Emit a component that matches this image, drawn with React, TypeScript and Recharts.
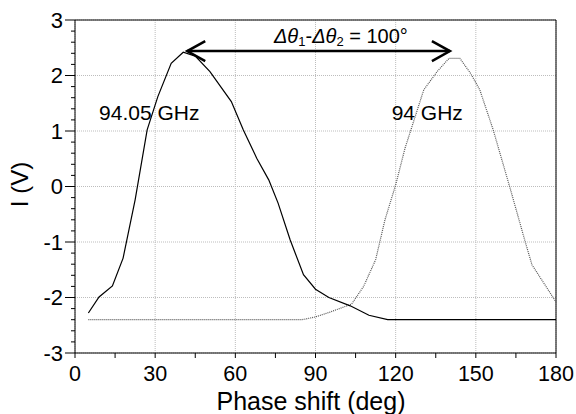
import React from 'react';
import { LineChart, Line, XAxis, YAxis, CartesianGrid, ReferenceLine, ReferenceDot } from 'recharts';

// 94.05 GHz (solid)
const phase1 = [5, 9, 14, 18, 22.5, 27, 31, 36, 40.5, 45, 50.5, 58.5, 63, 68, 72.5, 76, 80.5, 85.5, 90, 95, 103, 110, 117, 180];
const volt1 = [-2.28, -1.99, -1.79, -1.29, -0.24, 1.02, 1.62, 2.22, 2.42, 2.35, 2.07, 1.53, 1.02, 0.51, 0.12, -0.3, -0.96, -1.59, -1.85, -2.0, -2.15, -2.32, -2.4, -2.4];

// 94 GHz (dotted)
const phase2 = [5, 85, 90, 95, 103.5, 108, 112.5, 116, 120, 123.5, 126.5, 130.5, 135.5, 140, 144, 148, 151.5, 156.5, 163, 168.5, 171, 180];
const volt2 = [-2.4, -2.4, -2.35, -2.27, -2.12, -1.8, -1.32, -0.6, 0.03, 0.69, 1.14, 1.74, 2.07, 2.31, 2.31, 2.04, 1.74, 1.02, -0.06, -1.0, -1.41, -2.08];

const xMajor = [0, 30, 60, 90, 120, 150, 180];
const xTicks = [0, 15, 30, 45, 60, 75, 90, 105, 120, 135, 150, 165, 180];
const yMajor = [-3, -2, -1, 0, 1, 2, 3];
const yTicks = Array.from({ length: 31 }, (_, i) => Math.round((-3 + i * 0.2) * 10) / 10);

const arrowY = 2.44;
const arrowFrom = 42;
const arrowTo = 140.3;

const data1 = phase1.map((p, i) => ({ p, v: volt1[i] }));
const data2 = phase2.map((p, i) => ({ p, v: volt2[i] }));

const FONT = '"Liberation Sans", Arial, sans-serif';

const YTick = (props: any) => {
  const { x, y, payload } = props;
  const v = payload.value;
  const major = Math.abs(v - Math.round(v)) < 1e-6;
  return (
    <g>
      <line x1={x} x2={x - (major ? 10 : 4)} y1={y} y2={y} stroke="#000" strokeWidth={1} />
      {major && (
        <text x={x - 12} y={y} dy="0.36em" textAnchor="end" fontFamily={FONT} fontSize={22} fill="#000">
          {v}
        </text>
      )}
    </g>
  );
};

const XTick = (props: any) => {
  const { x, y, payload } = props;
  const v = payload.value;
  const major = v % 30 === 0;
  return (
    <g>
      <line x1={x} x2={x} y1={y} y2={y + 5} stroke="#000" strokeWidth={1} />
      {major && (
        <text x={x} y={y + 28} textAnchor="middle" fontFamily={FONT} fontSize={21.5} fill="#000">
          {v}
        </text>
      )}
    </g>
  );
};

const ArrowShape = (props: any) => {
  const { x1, y1, x2, y2 } = props;
  return (
    <g stroke="#000" fill="none" strokeWidth={2.5}>
      <line x1={x1} y1={y1} x2={x2} y2={y2} />
      <polyline points={`${x1 + 18},${y1 - 10} ${x1},${y1} ${x1 + 18},${y1 + 10}`} />
      <polyline points={`${x2 - 18},${y2 - 10} ${x2},${y2} ${x2 - 18},${y2 + 10}`} />
    </g>
  );
};

const AnnotText = (text: React.ReactNode, anchor: string, size = 21) => (props: any) => (
  <text x={props.cx} y={props.cy} textAnchor={anchor} fontFamily={FONT} fontSize={size} fill="#000">
    {text}
  </text>
);

const deltaText = (
  <>
    <tspan fontStyle="italic">Δθ</tspan>
    <tspan fontSize={13} dy={3}>1</tspan>
    <tspan dy={-3}>-</tspan>
    <tspan fontStyle="italic">Δθ</tspan>
    <tspan fontSize={13} dy={3}>2</tspan>
    <tspan dy={-3}> = 100°</tspan>
  </>
);

export default function App() {
  return (
    <div style={{ position: 'absolute', left: 0, top: 0, background: '#fff' }}>
      <LineChart width={576} height={414} margin={{ top: 20, right: 20, bottom: 0, left: 0 }}>
        <CartesianGrid
          stroke="#bdbdbd"
          strokeDasharray="1 1"
          horizontalValues={yMajor}
          verticalValues={xMajor}
        />
        <XAxis
          dataKey="p"
          type="number"
          domain={[0, 180]}
          ticks={xTicks}
          interval={0}
          height={61}
          tickSize={0}
          tickMargin={0}
          tickLine={false}
          tick={<XTick />}
          stroke="#000"
          allowDuplicatedCategory={false}
          label={(p: any) => {
            const vb = p.viewBox;
            return (
              <text x={311} y={vb.y + 57} textAnchor="middle" fontFamily={FONT} fontSize={25} fill="#000">
                Phase shift (deg)
              </text>
            );
          }}
        />
        <YAxis
          type="number"
          domain={[-3, 3]}
          ticks={yTicks}
          interval={0}
          width={75}
          tickSize={0}
          tickMargin={0}
          tickLine={false}
          tick={<YTick />}
          stroke="#000"
          label={(p: any) => {
            const vb = p.viewBox;
            const cx = 28;
            const cy = vb.y + vb.height / 2 - 2;
            return (
              <text x={cx} y={cy} transform={`rotate(-90 ${cx} ${cy})`} textAnchor="middle" fontFamily={FONT} fontSize={24} fill="#000">
                I (V)
              </text>
            );
          }}
        />
        <ReferenceLine y={3} stroke="#000" strokeWidth={1} />
        <ReferenceLine x={180} stroke="#000" strokeWidth={1} />
        <Line
          data={data2}
          dataKey="v"
          type="linear"
          stroke="#555"
          strokeWidth={1.2}
          strokeDasharray="1 1"
          dot={false}
          isAnimationActive={false}
        />
        <Line
          data={data1}
          dataKey="v"
          type="linear"
          stroke="#000"
          strokeWidth={1.2}
          dot={false}
          isAnimationActive={false}
        />
        <ReferenceLine
          segment={[{ x: arrowFrom, y: arrowY }, { x: arrowTo, y: arrowY }]}
          shape={<ArrowShape />}
        />
        <ReferenceDot x={99.5} y={2.59} r={0} shape={AnnotText(deltaText, 'middle', 20)} />
        <ReferenceDot x={9} y={1.2} r={0} shape={AnnotText('94.05 GHz', 'start')} />
        <ReferenceDot x={118.5} y={1.2} r={0} shape={AnnotText('94 GHz', 'start')} />
      </LineChart>
    </div>
  );
}
